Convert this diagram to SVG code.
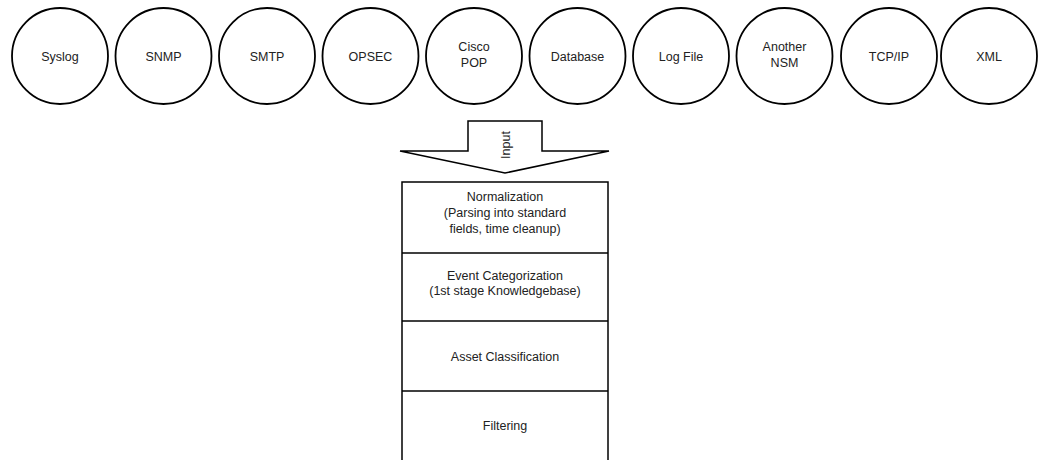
<svg xmlns="http://www.w3.org/2000/svg" width="1039" height="460" viewBox="0 0 1039 460">
<style>
.c{fill:#fff;stroke:#000;stroke-width:1.8}
.t{font-family:"Liberation Sans",Arial,sans-serif;font-size:12.5px;fill:#222;text-anchor:middle;dominant-baseline:central}
.b{fill:#fff;stroke:#000;stroke-width:1.5}
.l{stroke:#000;stroke-width:1.5;fill:none}
</style>
<rect width="1039" height="460" fill="#fff"/>
<g id="syslog"><circle class="c" cx="60" cy="56" r="48"/><text class="t" x="60" y="57">Syslog</text></g>
<g id="snmp"><circle class="c" cx="163.5" cy="56" r="48"/><text class="t" x="163.5" y="57">SNMP</text></g>
<g id="smtp"><circle class="c" cx="267" cy="56" r="48"/><text class="t" x="267" y="57">SMTP</text></g>
<g id="opsec"><circle class="c" cx="370.5" cy="56" r="48"/><text class="t" x="370.5" y="57">OPSEC</text></g>
<g id="ciscopop"><circle class="c" cx="474" cy="56" r="48"/><text class="t" x="474" y="47">Cisco</text><text class="t" x="474" y="63">POP</text></g>
<g id="database"><circle class="c" cx="577.5" cy="56" r="48"/><text class="t" x="577.5" y="57">Database</text></g>
<g id="logfile"><circle class="c" cx="681" cy="56" r="48"/><text class="t" x="681" y="57">Log File</text></g>
<g id="anothernsm"><circle class="c" cx="784.5" cy="56" r="48"/><text class="t" x="784.5" y="47">Another</text><text class="t" x="784.5" y="63">NSM</text></g>
<g id="tcpip"><circle class="c" cx="889" cy="56" r="48"/><text class="t" x="889" y="57">TCP/IP</text></g>
<g id="xml"><circle class="c" cx="989" cy="56" r="48"/><text class="t" x="989" y="57">XML</text></g>
<g id="connectors">
<g id="input-arrow"><polygon class="b" points="468,121 542,121 542,151 609,151 505,173 400,151 468,151"/><text class="t" transform="translate(506,145) rotate(-90)" x="0" y="0">Input</text></g>
</g>
<g id="stack">
<rect class="b" x="402" y="182" width="206" height="290"/>
<line class="l" x1="402" y1="253" x2="608" y2="253"/>
<line class="l" x1="402" y1="321" x2="608" y2="321"/>
<line class="l" x1="402" y1="391" x2="608" y2="391"/>
</g>
<g id="normalization"><text class="t" x="505" y="197">Normalization</text><text class="t" x="505" y="213">(Parsing into standard</text><text class="t" x="505" y="229">fields, time cleanup)</text></g>
<g id="categorization"><text class="t" x="505" y="276">Event Categorization</text><text class="t" x="505" y="291">(1st stage Knowledgebase)</text></g>
<g id="asset"><text class="t" x="505" y="357">Asset Classification</text></g>
<g id="filtering"><text class="t" x="505" y="426">Filtering</text></g>
</svg>
